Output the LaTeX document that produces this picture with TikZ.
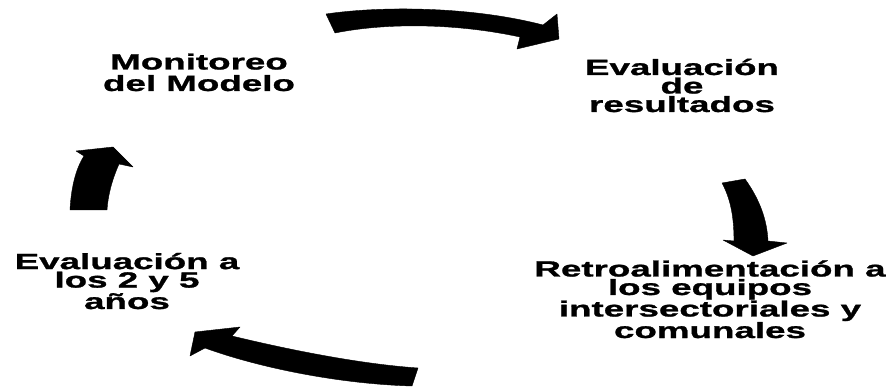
\documentclass[tikz,border=0pt]{standalone}
\usepackage{fontspec}
\newfontfamily\lblfont{Liberation Sans}[FakeStretch=1.67,FakeBold=1.2]
\begin{document}
\begin{tikzpicture}[x=1pt,y=-1pt,
  lbl/.style={font=\lblfont\bfseries\fontsize{22}{18.5}\selectfont, align=center, inner sep=0pt, anchor=base},
  blockarrow/.style={fill=black, draw=black, line width=0.4pt, line join=round}]
\useasboundingbox (0,0) rectangle (889,387);
% anchor=base is the baseline of the last line
\node[lbl] (mon) at (199,91) {Monitoreo\\[3pt]del Modelo};
\node[lbl] (eval) at (682,112) {Evaluación\\de\\resultados};
\node[lbl] (retro) at (710,338) {Retroalimentación a\\los equipos\\intersectoriales y\\comunales};
\node[lbl] (ev25) at (127,309) {Evaluación a\\los 2 y 5\\años};
% top arrow
\fill[blockarrow] (326,14) .. controls (380,6) and (470,6) .. (543,25) -- (557,14) -- (559,39) -- (517,49) -- (520,37) .. controls (460,24) and (390,22) .. (335,33) -- cycle;
% right arrow
\fill[blockarrow] (722,183) -- (745,179) .. controls (760,200) and (767,220) .. (768,241) -- (787,243) -- (753,256) -- (723,240) -- (734,241) .. controls (734,215) and (730,198) .. (722,183) -- cycle;
% bottom arrow
\fill[blockarrow] (195,332) -- (240,327) -- (232,336) .. controls (290,350) and (360,364) .. (418,368) -- (412,386) .. controls (340,384) and (260,368) .. (205,348) -- (190,356) -- cycle;
% left arrow
\fill[blockarrow] (76,151) -- (113,147) -- (133,167) -- (119,164) .. controls (112,180) and (108,195) .. (107,210) -- (70,210) .. controls (71,190) and (75,170) .. (84,156) -- cycle;
\end{tikzpicture}
\end{document}
